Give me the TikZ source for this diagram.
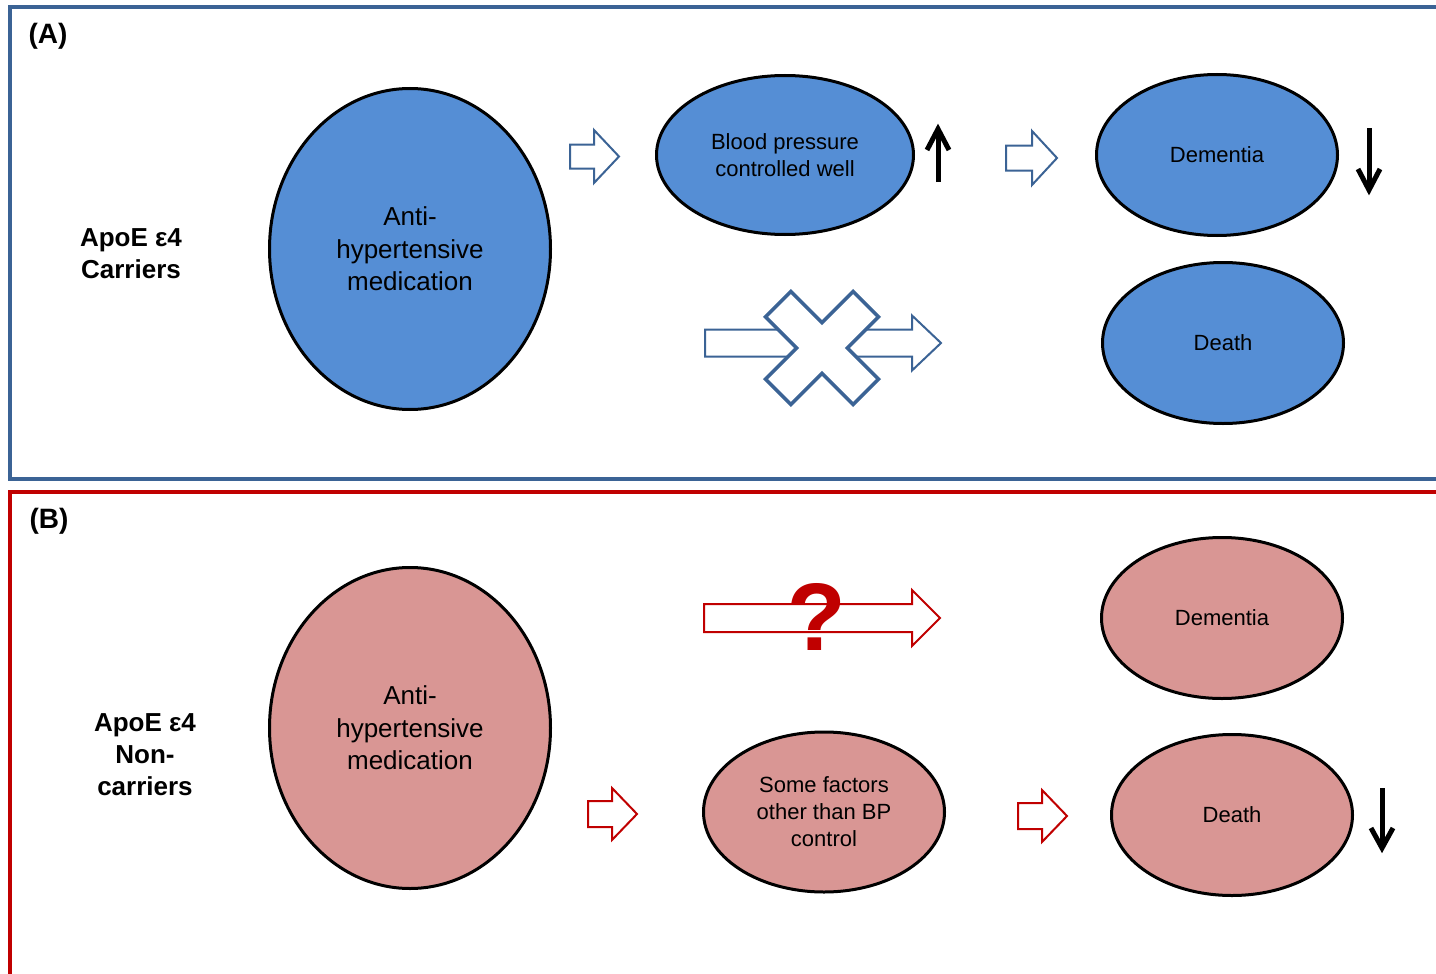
\documentclass[tikz,border=0pt]{standalone}
\usepackage{fontspec}
\setmainfont{Liberation Sans}
\usetikzlibrary{arrows.meta,shapes.geometric}
\definecolor{frameblue}{HTML}{3B6395}
\definecolor{fillblue}{HTML}{558ED5}
\definecolor{framered}{HTML}{C00000}
\definecolor{fillred}{HTML}{D99694}

% block arrow: style, x start, x head, x tip, y centre, shaft half, head half
\newcommand{\blockarrow}[7]{%
  \draw[#1] (#2,{#5-#6}) -- (#3,{#5-#6}) -- (#3,{#5-#7}) -- (#4,#5)
    -- (#3,{#5+#7}) -- (#3,{#5+#6}) -- (#2,{#5+#6}) -- cycle;}

\begin{document}
\begin{tikzpicture}[x=1pt,y=-1pt,
    oval/.style={ellipse,draw=black,line width=3pt,inner sep=0pt,align=center},
    bigtext/.style={font=\fontsize{26}{32.5}\selectfont},
    smalltext/.style={font=\fontsize{22}{27}\selectfont},
    grouplabel/.style={font=\bfseries\fontsize{26}{32}\selectfont,align=center},
    panellabel/.style={font=\bfseries\fontsize{28}{32}\selectfont},
    blueblock/.style={draw=frameblue,line width=2pt,fill=white,line join=miter},
    redblock/.style={draw=framered,line width=2pt,fill=white,line join=miter},
    trend/.style={line width=5pt,line join=miter}]

	\useasboundingbox (0,0) rectangle (1436,974);
	\clip (0,0) rectangle (1436,974);

	% Panel (A): carriers
	\draw[frameblue,line width=4pt] (10,7) rectangle (1460,479);
	\node[panellabel] (labA) at (48,36) {(A)};
	\node[grouplabel] (carA) at (131,254) {ApoE ε4\\Carriers};

	\node[oval,fill=fillblue,bigtext,minimum width=281pt,minimum height=321pt] (antiA) at (410,249)
		{Anti-\\hypertensive\\medication};
	\node[oval,fill=fillblue,smalltext,minimum width=257pt,minimum height=159pt] (bpA) at (785,155)
		{Blood pressure\\controlled well};
	\node[oval,fill=fillblue,smalltext,minimum width=241pt,minimum height=161pt] (demA) at (1217,155) {Dementia};
	\node[oval,fill=fillblue,smalltext,minimum width=241pt,minimum height=161pt] (deathA) at (1223,343) {Death};

	\blockarrow{blueblock}{570}{594}{619}{156.5}{12}{26.5}
	\blockarrow{blueblock}{1006}{1032}{1057}{158}{12.5}{27}
	\blockarrow{blueblock}{705}{912}{941}{343}{13.5}{27.5}

	% cross over the long arrow
	\draw[blueblock,line width=3.5pt,shift={(822,348)},rotate=45]
		(18,18) -- (62,18) -- (62,-18) -- (18,-18) -- (18,-62) -- (-18,-62) -- (-18,-18)
		-- (-62,-18) -- (-62,18) -- (-18,18) -- (-18,62) -- (18,62) -- cycle;

	% up / down trends
	\draw[trend] (938,182) -- (938,131);
	\draw[trend] (927,150) -- (938,129) -- (949,150);
	\draw[trend] (1369,128) -- (1369,188);
	\draw[trend] (1358,169) -- (1369,190) -- (1380,169);

	% Panel (B): non-carriers
	\draw[framered,line width=4pt] (10,492) rectangle (1460,990);
	\node[panellabel] (labB) at (49,521) {(B)};
	\node[grouplabel] (carB) at (145,755) {ApoE ε4\\Non-\\carriers};

	\node[oval,fill=fillred,bigtext,minimum width=281pt,minimum height=321pt] (antiB) at (410,728)
		{Anti-\\hypertensive\\medication};
	\node[oval,fill=fillred,smalltext,minimum width=241pt,minimum height=161pt] (demB) at (1222,618) {Dementia};
	\node[oval,fill=fillred,smalltext,minimum width=241pt,minimum height=160pt] (factB) at (824,812)
		{Some factors\\other than BP\\control};
	\node[oval,fill=fillred,smalltext,minimum width=241pt,minimum height=161pt] (deathB) at (1232,815) {Death};

	\blockarrow{redblock}{704}{912}{940}{618}{14}{28}
	\node[text=framered,font=\bfseries\fontsize{96}{96}\selectfont] (qmark) at (817,617) {?};
	\blockarrow{redblock}{588}{612}{637}{814}{13}{26}
	\blockarrow{redblock}{1018}{1042}{1067}{816}{13}{26}

	\draw[trend] (1382,788) -- (1382,846);
	\draw[trend] (1371,828) -- (1382,848) -- (1393,828);

\end{tikzpicture}
\end{document}
